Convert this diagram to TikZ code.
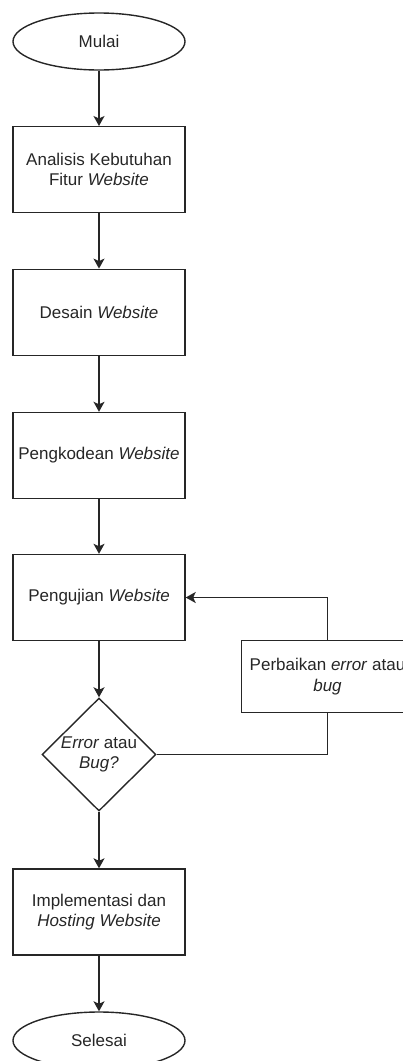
\documentclass[tikz,border=0pt]{standalone}
\usepackage{fontspec}
\setmainfont{Liberation Sans}
\usetikzlibrary{shapes.geometric,arrows.meta}
\begin{document}
\begin{tikzpicture}[x=1pt,y=-1pt,
  every node/.style={font=\fontsize{17}{20.4}\selectfont, align=center, text=black!85, line width=1.4pt, draw=black!85, inner sep=0pt},
  procbox/.style={rectangle, minimum width=172pt, minimum height=86pt},
  termbox/.style={ellipse, minimum width=172pt, minimum height=57pt},
  decbox/.style={diamond, minimum width=114pt, minimum height=113pt},
  flow/.style={line width=1.4pt, draw=black!85, -{Stealth[length=10pt,width=11pt,inset=2.5pt]}},
  plain/.style={line width=1.4pt, draw=black!85}]
\clip (0,0) rectangle (403,1061);
\useasboundingbox (0,0) rectangle (403,1061);
\node[termbox] (start) at (99,41.5) {Mulai};
\node[procbox] (a1) at (99,169.7) {Analisis Kebutuhan\\Fitur \textit{Website}};
\node[procbox] (a2) at (99,312.3) {Desain \textit{Website}};
\node[procbox] (a3) at (99,455.5) {Pengkodean \textit{Website}};
\node[procbox] (a4) at (99,597.5) {Pengujian \textit{Website}};
\node[decbox] (dec) at (99,754.5) {\textit{Error} atau\\\textit{Bug?}};
\node[procbox, minimum height=71.6pt] (fix) at (327.5,676.5) {Perbaikan \textit{error} atau\\\textit{bug}};
\node[procbox] (a5) at (99,912) {Implementasi dan\\\textit{Hosting Website}};
\node[termbox] (end) at (99,1040.5) {Selesai};
\draw[flow] (start) -- (a1);
\draw[flow] (a1) -- (a2);
\draw[flow] (a2) -- (a3);
\draw[flow] (a3) -- (a4);
\draw[flow] (a4) -- (dec);
\draw[flow] (dec) -- (a5);
\draw[flow] (a5) -- (end);
\draw[plain] (dec.east) -| (fix.south);
\draw[flow] (fix.north) |- (a4.east);
\end{tikzpicture}
\end{document}
